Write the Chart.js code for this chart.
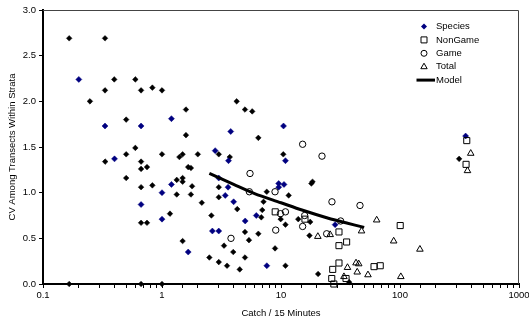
<!DOCTYPE html>
<html>
<head>
<meta charset="utf-8">
<script src="https://cdn.jsdelivr.net/npm/chart.js@4.4.1/dist/chart.umd.min.js"></script>
<style>
  body { margin: 0; background: #fff; }
  canvas { display: block; }
</style>
</head>
<body>
<canvas id="myChart" width="529" height="322"></canvas>
<script>
// values
const otherX = [0.166, 0.332, 0.397, 0.597, 0.332, 0.667, 0.83, 1.0, 0.248, 0.5, 1.59, 1.59, 4.24, 4.98, 5.73, 6.45,
  1.0, 0.597, 0.5, 0.333, 0.667, 0.667, 0.748, 0.5, 0.667, 0.83, 0.667, 0.748, 1.167, 1.33, 1.33, 1.40, 1.49,
  2.0, 3.0, 3.71, 1.66, 1.75, 1.49, 1.49, 1.79, 1.75, 3.0, 3.0, 2.16, 4.29, 2.6, 6.83, 6.96, 7.13, 7.59, 9.94,
  10.9, 1.49, 4.98, 5.38, 6.45, 3.32, 3.97, 4.98, 8.91, 2.5, 3.0, 3.52, 4.5, 10.9, 10.45, 11.6, 18.0, 18.4,
  13.96, 17.6, 17.35, 20.5, 37.4, 314, 0.166, 0.667, 1.0]
const otherY = [2.69, 2.69, 2.24, 2.24, 2.12, 2.12, 2.15, 2.12, 2.0, 1.80, 1.91, 1.63, 2.0, 1.91, 1.89, 1.60,
  1.42, 1.49, 1.42, 1.34, 1.34, 1.26, 1.28, 1.16, 1.06, 1.08, 0.67, 0.67, 0.77, 1.14, 0.98, 1.39, 1.42,
  1.42, 1.42, 1.39, 1.28, 1.27, 1.16, 1.12, 1.07, 0.98, 1.06, 0.95, 0.89, 0.82, 0.75, 0.73, 0.81, 0.90, 1.01, 0.71,
  0.65, 0.47, 0.57, 0.48, 0.55, 0.42, 0.35, 0.29, 0.39, 0.29, 0.24, 0.20, 0.16, 0.20, 1.42, 0.97, 1.10, 1.12,
  0.71, 0.68, 0.53, 0.11, 0.02, 1.37, 0, 0, 0]

const speciesX = [0.20, 0.332, 0.667, 1.2, 3.78, 10.5, 2.8, 3.62, 10.9, 0.399, 1.0, 1.2, 0.667, 1.0, 3.0, 3.59,
  3.4, 4.0, 5.0, 6.2, 9.56, 9.56, 10.6, 2.65, 3.0, 1.66, 7.6, 28.5, 356]
const speciesY = [2.24, 1.73, 1.73, 1.81, 1.67, 1.73, 1.46, 1.35, 1.35, 1.37, 1.0, 1.09, 0.87, 0.71, 1.16, 1.06,
  0.97, 0.90, 0.69, 0.75, 1.10, 1.06, 1.09, 0.58, 0.58, 0.35, 0.20, 0.65, 1.62]

const nonGameX = [8.94, 15.9, 30.7, 35.6, 30.7, 100.4, 30.7, 27.2, 60.5, 68.2, 26.7, 35.2, 27.8, 364, 359]
const nonGameY = [0.79, 0.71, 0.57, 0.46, 0.42, 0.64, 0.23, 0.16, 0.19, 0.20, 0.06, 0.06, 0.0, 1.57, 1.31]

const gameX = [15.2, 22.1, 5.49, 5.42, 8.91, 9.9, 10.9, 3.8, 9.03, 15.8, 15.2, 24.2, 26.8, 46.1, 31.7]
const gameY = [1.53, 1.40, 1.21, 1.01, 1.01, 0.77, 0.79, 0.50, 0.59, 0.75, 0.63, 0.55, 0.90, 0.86, 0.69]

const totalX = [20.4, 25.9, 47.5, 63.7, 88.5, 147, 36.2, 42.7, 45, 43.7, 53.8, 101.6, 33.8, 393, 369]
const totalY = [0.52, 0.54, 0.58, 0.70, 0.47, 0.38, 0.18, 0.23, 0.22, 0.13, 0.10, 0.08, 0.08, 1.43, 1.24]

const modelX = [2.5, 4, 6, 10, 15, 25, 35, 50]
const modelY = [1.21, 1.09, 0.99, 0.89, 0.81, 0.72, 0.67, 0.62]

const yTicks = [0, 0.5, 1, 1.5, 2, 2.5, 3]

function pts(xs, ys) {
    return xs.map((x, i) => ({x: x, y: ys[i]}))
}

const FONT = {family: "'Liberation Sans', Arial, sans-serif", size: 9.5}
const NAVY = '#000080'
const CLEAR = 'rgba(0,0,0,0)'

const legendItems = [
    {text: 'Species', style: 'diamond'},
    {text: 'NonGame', style: 'square'},
    {text: 'Game', style: 'circle'},
    {text: 'Total', style: 'triangle'},
    {text: 'Model', style: 'line'},
]

const framePlugin = {
    id: 'frame',
    afterDraw(chart) {
        const ctx = chart.ctx
        const a = chart.chartArea
        ctx.save()
        ctx.strokeStyle = '#444'
        ctx.lineWidth = 1
        ctx.beginPath()
        ctx.moveTo(a.left, a.top + 0.5)
        ctx.lineTo(a.right - 0.5, a.top + 0.5)
        ctx.lineTo(a.right - 0.5, a.bottom)
        ctx.stroke()

        // legend
        ctx.font = '9.5px "Liberation Sans", Arial, sans-serif'
        ctx.textBaseline = 'middle'
        ctx.fillStyle = '#000'
        legendItems.forEach((it, i) => {
            const y = 26.5 + i * 13.4
            const x = 424
            ctx.lineWidth = 1
            ctx.strokeStyle = '#000'
            ctx.beginPath()
            if (it.style === 'diamond') {
                ctx.fillStyle = NAVY
                ctx.moveTo(x - 3, y); ctx.lineTo(x, y - 3); ctx.lineTo(x + 3, y); ctx.lineTo(x, y + 3)
                ctx.closePath(); ctx.fill()
            } else if (it.style === 'square') {
                ctx.rect(x - 3, y - 3, 6, 6); ctx.stroke()
            } else if (it.style === 'circle') {
                ctx.arc(x, y, 3, 0, Math.PI * 2); ctx.stroke()
            } else if (it.style === 'triangle') {
                ctx.moveTo(x, y - 3.5); ctx.lineTo(x + 3.2, y + 2); ctx.lineTo(x - 3.2, y + 2)
                ctx.closePath(); ctx.stroke()
            } else {
                ctx.lineWidth = 3
                ctx.moveTo(416.5, y); ctx.lineTo(435, y); ctx.stroke()
            }
            ctx.fillStyle = '#000'
            ctx.fillText(it.text, 436, y)
        })
        ctx.restore()
    }
}

const config = {
    type: 'scatter',
    data: {
        datasets: [
            {label: 'Model', data: pts(modelX, modelY), showLine: true, borderColor: '#000', borderWidth: 3,
             pointRadius: 0, tension: 0.3, clip: false},
            {label: 'Total', data: pts(totalX, totalY), pointStyle: 'triangle', pointRadius: 3.8,
             borderColor: '#000', backgroundColor: CLEAR, borderWidth: 1, clip: false},
            {label: 'Game', data: pts(gameX, gameY), pointStyle: 'circle', pointRadius: 3.2,
             borderColor: '#000', backgroundColor: CLEAR, borderWidth: 1, clip: false},
            {label: 'NonGame', data: pts(nonGameX, nonGameY), pointStyle: 'rect', pointRadius: 4.3,
             borderColor: '#000', backgroundColor: CLEAR, borderWidth: 1, clip: false},
            {label: 'Species', data: pts(speciesX, speciesY), pointStyle: 'rectRot', pointRadius: 3,
             borderColor: NAVY, backgroundColor: NAVY, borderWidth: 0.5, clip: false},
            {label: 'Species (other)', data: pts(otherX, otherY), pointStyle: 'rectRot', pointRadius: 2.8,
             borderColor: '#000', backgroundColor: '#000', borderWidth: 0.5, clip: false},
        ]
    },
    options: {
        responsive: false,
        animation: false,
        devicePixelRatio: 1,
        layout: {padding: {top: 10, right: 10, left: 0, bottom: 0}},
        plugins: {legend: {display: false}, tooltip: {enabled: false}},
        scales: {
            x: {
                type: 'logarithmic',
                min: 0.1,
                max: 1000,
                afterFit(s) { s.height = 38; s.paddingRight = 0; s.paddingLeft = 0 },
                border: {display: true, color: '#000', width: 2},
                grid: {drawOnChartArea: false, drawTicks: true, tickLength: 4, color: '#000'},
                ticks: {
                    autoSkip: false,
                    maxRotation: 0,
                    padding: 2,
                    color: '#000',
                    font: FONT,
                    callback(v) {
                        const l = Math.log10(v)
                        return Math.abs(l - Math.round(l)) < 1e-6 ? String(Number(v.toPrecision(3))) : ''
                    }
                },
                title: {display: true, text: 'Catch / 15 Minutes', color: '#000', font: FONT,
                        padding: {top: 0, bottom: 3}}
            },
            y: {
                min: 0,
                max: 3,
                afterFit(s) { s.width = 43 },
                afterBuildTicks(s) { s.ticks = yTicks.map(v => ({value: v})) },
                border: {display: true, color: '#000', width: 2},
                grid: {drawOnChartArea: false, drawTicks: true, tickLength: 4, color: '#000'},
                ticks: {
                    padding: 3,
                    color: '#000',
                    font: FONT,
                    callback(v) { return Number(v).toFixed(1) }
                },
                title: {display: true, text: 'CV Among Transects Within Strata', color: '#000', font: FONT,
                        padding: {top: 7, bottom: 0}}
            }
        }
    },
    plugins: [framePlugin]
}

const myChart = new Chart(document.getElementById('myChart'), config)
</script>
</body>
</html>
